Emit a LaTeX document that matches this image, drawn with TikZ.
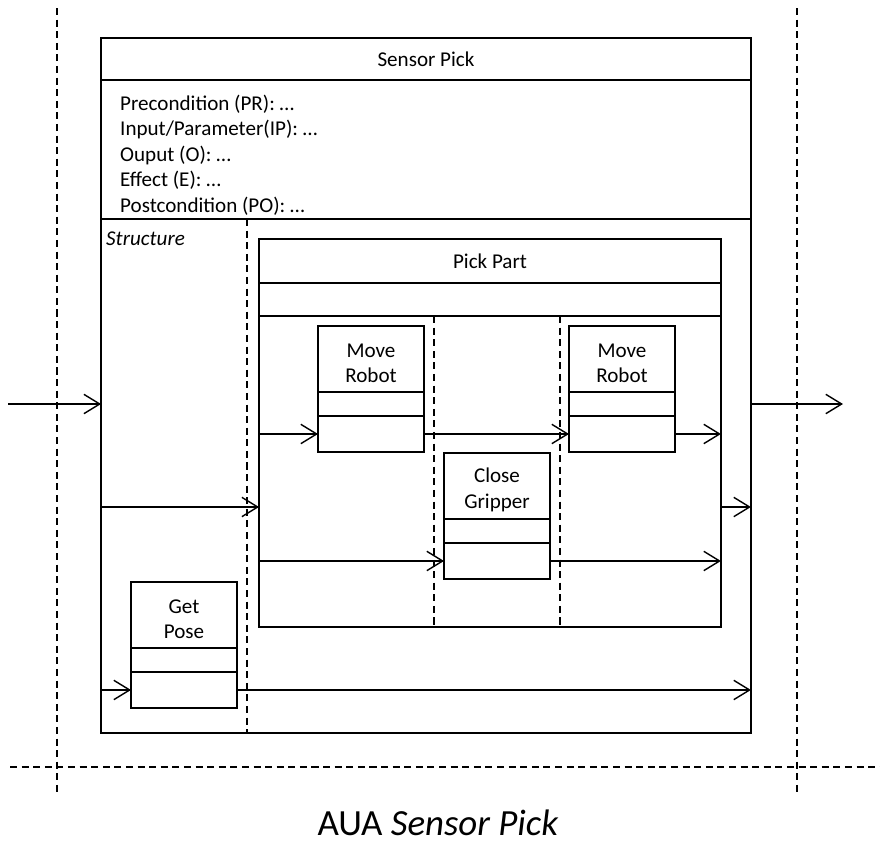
\documentclass[tikz,border=0pt]{standalone}
\usepackage{fontspec}
\setmainfont{Carlito}
\usepackage{tikz}
\usetikzlibrary{positioning,arrows.meta}

\tikzset{
  txt/.style={font=\fontsize{12}{14.5}\selectfont},
  cell/.style={draw, line width=0.75pt, inner sep=0pt, outer sep=0pt, align=center, txt},
  frame/.style={line width=1.3pt},
  acthead/.style={cell, minimum width=2.12cm, minimum height=1.32cm, text height=27pt},
  actpar/.style={cell, minimum width=2.12cm, minimum height=0.48cm},
  actbody/.style={cell, minimum width=2.12cm, minimum height=0.72cm},
  arr/.style={-{Straight Barb[length=9pt,width=11pt]}, line width=0.8pt},
  lane/.style={dashed, line width=0.75pt, dash pattern=on 4pt off 2.6pt}
}

\begin{document}
\begin{tikzpicture}[x=0.02cm, y=-0.02cm]
  \useasboundingbox (0,0) rectangle (880,842);

  % swimlane borders
  \draw[lane] (57,8) -- (57,793);
  \draw[lane] (797,8) -- (797,793);
  \draw[lane] (10,767) -- (880,767);

  % Sensor Pick
  \node[cell, minimum width=13cm, minimum height=0.84cm] (sphead) at (426,59) {Sensor Pick};
  \node[cell, minimum width=13cm, minimum height=2.78cm, below=0pt of sphead] (sppar) {};
  \node[cell, minimum width=13cm, minimum height=10.28cm, below=0pt of sppar] (spbody) {};
  \draw[frame] (sphead.north west) rectangle (spbody.south east);
  \node[txt, anchor=west, align=left] (spinfo) at (114,155)
    {Precondition (PR): …\\Input/Parameter(IP): …\\Ouput (O): …\\Effect (E): …\\Postcondition (PO): …};
  \node[txt, anchor=west, font=\fontsize{12}{14.5}\selectfont\itshape] (spstruct) at (100,239) {Structure};
  \draw[lane] (247,0 |- spbody.north) -- (247,0 |- spbody.south);

  % Pick Part
  \node[cell, minimum width=9.24cm, minimum height=0.88cm] (pphead) at (490,261) {Pick Part};
  \node[cell, minimum width=9.24cm, minimum height=0.66cm, below=0pt of pphead] (pppar) {};
  \node[cell, minimum width=9.24cm, minimum height=6.22cm, below=0pt of pppar] (ppbody) {};
  \draw[frame] (pphead.north west) rectangle (ppbody.south east);
  \draw[lane] (434,0 |- ppbody.north) -- (434,0 |- ppbody.south);
  \draw[lane] (560,0 |- ppbody.north) -- (560,0 |- ppbody.south);

  % actions
  \node[acthead] (mr1) at (371,359) {Move\\Robot};
  \node[actpar, below=0pt of mr1] (mr1p) {};
  \node[actbody, below=0pt of mr1p] (mr1b) {};
  \draw[frame] (mr1.north west) rectangle (mr1b.south east);

  \node[acthead] (mr2) at (622,359) {Move\\Robot};
  \node[actpar, below=0pt of mr2] (mr2p) {};
  \node[actbody, below=0pt of mr2p] (mr2b) {};
  \draw[frame] (mr2.north west) rectangle (mr2b.south east);

  \node[acthead] (cg) at (497,486) {Close\\Gripper};
  \node[actpar, below=0pt of cg] (cgp) {};
  \node[actbody, below=0pt of cgp] (cgb) {};
  \draw[frame] (cg.north west) rectangle (cgb.south east);

  \node[acthead] (gp) at (184,615) {Get\\Pose};
  \node[actpar, below=0pt of gp] (gpp) {};
  \node[actbody, below=0pt of gpp] (gpb) {};
  \draw[frame] (gp.north west) rectangle (gpb.south east);

  % flows
  \coordinate (in) at (8,404);
  \coordinate (out) at (843,404);
  \draw[arr] (in) -- (in -| spbody.west);
  \draw[arr] (out -| spbody.east) -- (out);
  \draw[arr] (spbody.west |- 0,507) -- (ppbody.west |- 0,507);
  \draw[arr] (ppbody.east |- 0,507) -- (spbody.east |- 0,507);
  \draw[arr] (ppbody.west |- mr1b.west) -- (mr1b.west);
  \draw[arr] (mr1b.east) -- (mr2b.west);
  \draw[arr] (mr2b.east) -- (ppbody.east |- mr2b.east);
  \draw[arr] (ppbody.west |- cgb.west) -- (cgb.west);
  \draw[arr] (cgb.east) -- (ppbody.east |- cgb.east);
  \draw[arr] (spbody.west |- gpb.west) -- (gpb.west);
  \draw[arr] (gpb.east) -- (spbody.east |- gpb.east);

  \node[font=\fontsize{21}{25}\selectfont, anchor=base, inner sep=0pt] (caption) at (438,835) {AUA \textit{Sensor Pick}};
\end{tikzpicture}
\end{document}
